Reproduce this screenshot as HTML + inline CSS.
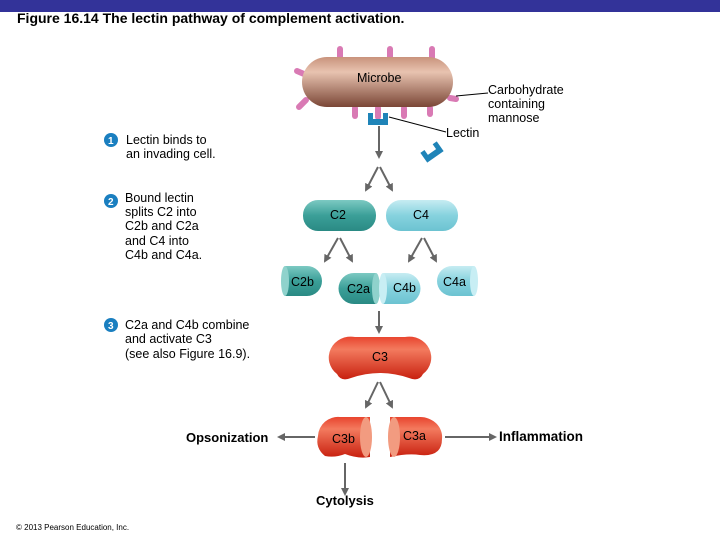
<!DOCTYPE html>
<html><head><meta charset="utf-8"><style>
html,body{margin:0;padding:0;background:#fff;width:720px;height:540px;overflow:hidden}
svg{display:block}
text{font-family:"Liberation Sans",Arial,sans-serif;fill:#000}
.b{font-weight:bold}
</style></head><body>
<svg width="720" height="540" viewBox="0 0 720 540" xmlns="http://www.w3.org/2000/svg">
<defs>
<marker id="ah" markerWidth="8" markerHeight="8" refX="6" refY="4" orient="auto" markerUnits="userSpaceOnUse" viewBox="0 0 8 8"><path d="M0,0 L8,4 L0,8 z" fill="#666"/></marker>
<linearGradient id="mic" x1="0" y1="0" x2="0" y2="1"><stop offset="0" stop-color="#c9937c"/><stop offset="0.3" stop-color="#e8c3b0"/><stop offset="1" stop-color="#7a4636"/></linearGradient>
<linearGradient id="teal" x1="0" y1="0" x2="0" y2="1"><stop offset="0" stop-color="#7cc9c2"/><stop offset="0.5" stop-color="#3b9f98"/><stop offset="1" stop-color="#2a8a84"/></linearGradient>
<linearGradient id="lt" x1="0" y1="0" x2="0" y2="1"><stop offset="0" stop-color="#c6ecf2"/><stop offset="0.5" stop-color="#86d2de"/><stop offset="1" stop-color="#6cc3d1"/></linearGradient>
<linearGradient id="red" x1="0" y1="0" x2="0" y2="1"><stop offset="0" stop-color="#e8442e"/><stop offset="0.3" stop-color="#f37a5e"/><stop offset="1" stop-color="#c8200f"/></linearGradient>
</defs>
<rect x="0" y="0" width="720" height="12" fill="#333399"/>
<text class="b" x="17" y="23" font-size="14">Figure 16.14 The lectin pathway of complement activation.</text>

<g stroke="#d97ab4" stroke-width="6" stroke-linecap="round">
<line x1="340" y1="58" x2="340" y2="49"/><line x1="390" y1="58" x2="390" y2="49"/><line x1="432" y1="58" x2="432" y2="49"/>
<line x1="304" y1="74" x2="297" y2="71"/><line x1="306" y1="100" x2="299" y2="107"/>
<line x1="450" y1="98" x2="456" y2="99"/>
<line x1="355" y1="108" x2="355" y2="116"/><line x1="378" y1="108" x2="378" y2="117"/><line x1="404" y1="108" x2="404" y2="116"/><line x1="430" y1="108" x2="430" y2="114"/>
</g>
<rect x="302" y="57" width="151" height="50" rx="25" fill="url(#mic)"/>
<text x="357" y="82" font-size="12.5">Microbe</text>
<path d="M368,113 h5 v6 h10 v-6 h5 v12 h-20 z" fill="#1f84b8"/>
<line x1="389" y1="117" x2="446" y2="132" stroke="#000" stroke-width="1"/>
<line x1="456" y1="96" x2="488" y2="93" stroke="#000" stroke-width="1"/>
<text x="488" y="94" font-size="12.5">Carbohydrate</text>
<text x="488" y="108" font-size="12.5">containing</text>
<text x="488" y="122" font-size="12.5">mannose</text>
<text x="446" y="137" font-size="12.5">Lectin</text>
<g transform="translate(432,152) rotate(-35)"><path d="M-10,-6 h5 v6 h10 v-6 h5 v12 h-20 z" fill="#1f84b8"/></g>

<circle cx="111" cy="140" r="7" fill="#1a7fc0"/><text class="b" x="108" y="144" font-size="10" style="fill:#fff">1</text>
<text x="126" y="144" font-size="12.5">Lectin binds to</text>
<text x="126" y="158" font-size="12.5">an invading cell.</text>
<circle cx="111" cy="201" r="7" fill="#1a7fc0"/><text class="b" x="108" y="205" font-size="10" style="fill:#fff">2</text>
<text x="125" y="202" font-size="12.5">Bound lectin</text>
<text x="125" y="216" font-size="12.5">splits C2 into</text>
<text x="125" y="230" font-size="12.5">C2b and C2a</text>
<text x="125" y="245" font-size="12.5">and C4 into</text>
<text x="125" y="259" font-size="12.5">C4b and C4a.</text>
<circle cx="111" cy="325" r="7" fill="#1a7fc0"/><text class="b" x="108" y="329" font-size="10" style="fill:#fff">3</text>
<text x="125" y="329" font-size="12.5">C2a and C4b combine</text>
<text x="125" y="343" font-size="12.5">and activate C3</text>
<text x="125" y="358" font-size="12.5">(see also Figure 16.9).</text>

<g stroke="#666" stroke-width="2" fill="none" marker-end="url(#ah)">
<line x1="379" y1="126" x2="379" y2="157"/>
<line x1="378" y1="167" x2="366" y2="190"/><line x1="380" y1="167" x2="392" y2="190"/>
<line x1="338" y1="238" x2="325" y2="261"/><line x1="340" y1="238" x2="352" y2="261"/>
<line x1="422" y1="238" x2="409" y2="261"/><line x1="424" y1="238" x2="436" y2="261"/>
<line x1="379" y1="311" x2="379" y2="332"/>
<line x1="378" y1="382" x2="366" y2="407"/><line x1="380" y1="382" x2="392" y2="407"/>
<line x1="315" y1="437" x2="279" y2="437"/>
<line x1="445" y1="437" x2="495" y2="437"/>
<line x1="345" y1="463" x2="345" y2="494"/>
</g>

<rect x="303" y="200" width="73" height="31" rx="15" fill="url(#teal)"/>
<text x="330" y="219" font-size="12.5">C2</text>
<rect x="386" y="200" width="72" height="31" rx="15" fill="url(#lt)"/>
<text x="413" y="219" font-size="12.5">C4</text>

<path d="M285,266 h22 a15,15 0 0 1 0,30 h-22 z" fill="url(#teal)"/>
<ellipse cx="285" cy="281" rx="4" ry="15" fill="#8fd2cc"/>
<text x="291" y="286" font-size="12.5">C2b</text>
<path d="M376,273 h-22 a15,15 0 0 0 0,31 h22 z" fill="url(#teal)"/>
<ellipse cx="376" cy="288.5" rx="4" ry="15.5" fill="#8fd2cc"/>
<text x="347" y="293" font-size="12.5">C2a</text>
<path d="M383,273 h22 a15,15 0 0 1 0,31 h-22 z" fill="url(#lt)"/>
<ellipse cx="383" cy="288.5" rx="4" ry="15.5" fill="#c8eef4"/>
<text x="393" y="292" font-size="12.5">C4b</text>
<path d="M474,266 h-22 a15,15 0 0 0 0,30 h22 z" fill="url(#lt)"/>
<ellipse cx="474" cy="281" rx="4" ry="15" fill="#c8eef4"/>
<text x="443" y="286" font-size="12.5">C4a</text>

<path d="M355,337 h50 a22,21 0 0 1 18,37 q-4,8 -14,4 q-29,-10 -58,0 q-10,4 -14,-4 a22,21 0 0 1 18,-37 z" fill="url(#red)"/>
<text x="372" y="361" font-size="12.5">C3</text>
<path d="M340,417 h30 v40 q-12,2 -25,-3 q-10,4 -20,2 q-10,-8 -7,-20 a20,20 0 0 1 22,-19 z" fill="url(#red)"/>
<ellipse cx="366" cy="437" rx="6" ry="20" fill="#f29b80"/>
<text x="332" y="443" font-size="12.5">C3b</text>
<path d="M390,417 h30 a22,20 0 0 1 22,22 q0,18 -22,16 q-12,-2 -30,2 z" fill="url(#red)"/>
<ellipse cx="394" cy="437" rx="6" ry="20" fill="#f29b80"/>
<text x="403" y="440" font-size="12.5">C3a</text>

<text class="b" x="186" y="442" font-size="13">Opsonization</text>
<text class="b" x="499" y="441" font-size="13.5">Inflammation</text>
<text class="b" x="316" y="505" font-size="13">Cytolysis</text>
<text x="16" y="530" font-size="8">© 2013 Pearson Education, Inc.</text>
</svg>
</body></html>
